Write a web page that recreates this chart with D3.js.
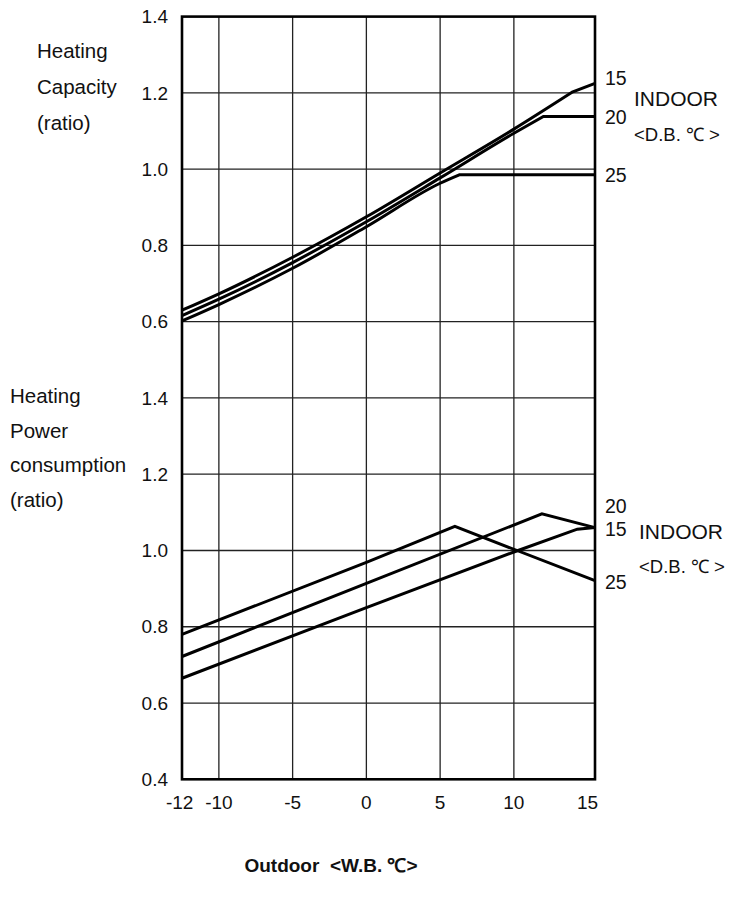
<!DOCTYPE html>
<html>
<head>
<meta charset="utf-8">
<script src="https://cdn.jsdelivr.net/npm/d3@7"></script>
<style>
html,body{margin:0;padding:0;background:#fff;}
text{font-family:Arial,"Liberation Sans",Helvetica,sans-serif;fill:#111;}
</style>
</head>
<body>
<svg id="chart" width="748" height="901"></svg>
<script>
// ---- data ----
const xTicks = [-12, -10, -5, 0, 5, 10, 15];
const xGrid = [-10, -5, 0, 5, 10];
const yTicksTop = [0.6, 0.8, 1.0, 1.2, 1.4];
const yTicksBot = [0.4, 0.6, 0.8, 1.0, 1.2, 1.4];
const yGridTop = [0.4, 0.6, 0.8, 1.0, 1.2];
const yGridBot = [0.6, 0.8, 1.0, 1.2];
const seriesNames = ["15", "20", "25"];

// Heating capacity ratio (rising part is smooth, tail is straight)
const cap15X = [-12.5, -10, -5, 0, 5, 10, 14, 15.5];
const cap15Y = [0.630, 0.673, 0.769, 0.875, 0.990, 1.105, 1.203, 1.225];
const cap20X = [-12.5, -10, -5, 0, 5, 10, 12, 15.5];
const cap20Y = [0.616, 0.659, 0.755, 0.862, 0.977, 1.094, 1.138, 1.138];
const cap25X = [-12.5, -10, -5, 0, 5, 6.3, 15.5];
const cap25Y = [0.602, 0.645, 0.740, 0.849, 0.963, 0.985, 0.985];

// Heating power consumption ratio
const pow15X = [-12.5, 0, 10, 14.3, 15.5];
const pow15Y = [0.665, 0.850, 0.996, 1.056, 1.060];
const pow20X = [-12.5, 0, 11.9, 15.5];
const pow20Y = [0.722, 0.914, 1.096, 1.060];
const pow25X = [-12.5, 0, 6, 15.5];
const pow25Y = [0.780, 0.969, 1.063, 0.921];

// ---- drawing ----
const svg = d3.select("#chart");
const L = 182, R = 595, T = 16.6, B = 779.3, MID = (T + B) / 2;

const x = d3.scaleLinear().domain([-12.5, 15.5]).range([L, R]);
const yTop = d3.scaleLinear().domain([0.4, 1.4]).range([MID, T]);
const yBot = d3.scaleLinear().domain([0.4, 1.4]).range([B, MID]);

const g = svg.append("g");

// grid
g.selectAll(".vg").data(xGrid).enter().append("line")
  .attr("x1", d => x(d)).attr("x2", d => x(d))
  .attr("y1", T).attr("y2", B)
  .attr("stroke", "#222").attr("stroke-width", 1.3);
g.selectAll(".hgt").data(yGridTop).enter().append("line")
  .attr("x1", L).attr("x2", R)
  .attr("y1", d => yTop(d)).attr("y2", d => yTop(d))
  .attr("stroke", "#222").attr("stroke-width", 1.3);
g.selectAll(".hgb").data(yGridBot).enter().append("line")
  .attr("x1", L).attr("x2", R)
  .attr("y1", d => yBot(d)).attr("y2", d => yBot(d))
  .attr("stroke", "#222").attr("stroke-width", 1.3);

// curves
function pts(xs, ys) { return xs.map((v, i) => [v, ys[i]]); }
const smoothTop = d3.line().x(d => x(d[0])).y(d => yTop(d[1])).curve(d3.curveMonotoneX);
const straightTop = d3.line().x(d => x(d[0])).y(d => yTop(d[1]));
const lineBot = d3.line().x(d => x(d[0])).y(d => yBot(d[1]));

// capacity: smooth rising section up to the knee, straight after it
const capSeries = [
  { p: pts(cap15X, cap15Y), knee: 6 },
  { p: pts(cap20X, cap20Y), knee: 6 },
  { p: pts(cap25X, cap25Y), knee: 5 }
];
capSeries.forEach(s => {
  g.append("path").attr("d", smoothTop(s.p.slice(0, s.knee + 1)) + straightTop(s.p.slice(s.knee)).replace(/^M[^L]*/, ""))
    .attr("fill", "none").attr("stroke", "#000")
    .attr("stroke-width", 3).attr("stroke-linejoin", "miter");
});

const powSeries = [pts(pow15X, pow15Y), pts(pow20X, pow20Y), pts(pow25X, pow25Y)];
g.selectAll(".pow").data(powSeries).enter().append("path")
  .attr("d", lineBot).attr("fill", "none").attr("stroke", "#000")
  .attr("stroke-width", 3).attr("stroke-linejoin", "miter");

// frame
g.append("rect").attr("x", L).attr("y", T).attr("width", R - L).attr("height", B - T)
  .attr("fill", "none").attr("stroke", "#000").attr("stroke-width", 2.6);

// y tick labels
g.selectAll(".ytt").data(yTicksTop).enter().append("text")
  .attr("x", 168).attr("y", d => yTop(d)).attr("dy", "0.35em")
  .attr("text-anchor", "end").style("font-size", "19px")
  .text(d => d.toFixed(1));
g.selectAll(".ytb").data(yTicksBot).enter().append("text")
  .attr("x", 168).attr("y", d => yBot(d)).attr("dy", "0.35em")
  .attr("text-anchor", "end").style("font-size", "19px")
  .text(d => d.toFixed(1));

// x tick labels
g.selectAll(".xt").data(xTicks).enter().append("text")
  .attr("x", d => d === -12 ? x(d) + 4 : x(d))
  .attr("y", 809)
  .attr("text-anchor", d => d === -12 ? "end" : "middle")
  .style("font-size", "19px")
  .text(d => d);

// left axis titles
const topTitle = ["Heating", "Capacity", "(ratio)"];
g.selectAll(".tt").data(topTitle).enter().append("text")
  .attr("x", 37).attr("y", (d, i) => 58 + i * 36)
  .style("font-size", "20.5px").text(d => d);
const botTitle = ["Heating", "Power", "consumption", "(ratio)"];
g.selectAll(".bt").data(botTitle).enter().append("text")
  .attr("x", 10).attr("y", (d, i) => 403 + i * 34.5)
  .style("font-size", "20.5px").text(d => d);

// right series labels (top)
const capLabelY = [cap15Y[cap15Y.length - 1], cap20Y[cap20Y.length - 1], cap25Y[cap25Y.length - 1]];
g.selectAll(".rl").data(seriesNames).enter().append("text")
  .attr("x", 605).attr("y", (d, i) => yTop(capLabelY[i]) + [2, 7.5, 7.5][i])
  .style("font-size", "19.5px").text(d => d);
g.append("text").attr("x", 634).attr("y", 106).style("font-size", "21px").text("INDOOR");
g.append("text").attr("x", 634).attr("y", 141).style("font-size", "18.5px")
  .style("white-space", "pre").text("<D.B. ℃ >");

// right series labels (bottom)
const powLabelY = [535.7, 512.7, 589.3];
g.selectAll(".rlb").data(seriesNames).enter().append("text")
  .attr("x", 605).attr("y", (d, i) => powLabelY[i])
  .style("font-size", "19.5px").text(d => d);
g.append("text").attr("x", 639).attr("y", 539).style("font-size", "21px").text("INDOOR");
g.append("text").attr("x", 639).attr("y", 573).style("font-size", "18.5px")
  .style("white-space", "pre").text("<D.B. ℃ >");

// x axis title
g.append("text").attr("x", 331).attr("y", 872).attr("text-anchor", "middle")
  .style("font-size", "19px").style("font-weight", "bold").style("white-space", "pre")
  .text("Outdoor  <W.B. ℃>");
</script>
</body>
</html>
